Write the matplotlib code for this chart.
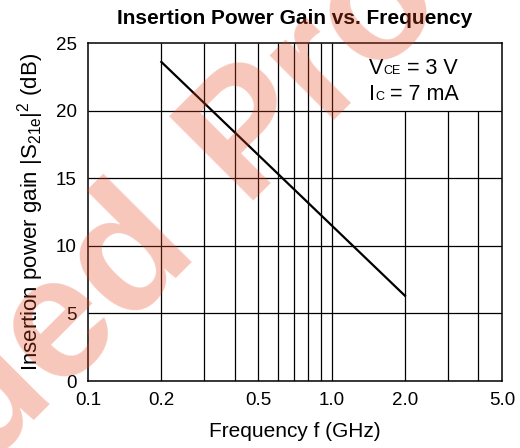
import matplotlib
matplotlib.use('Agg')
import matplotlib.pyplot as plt
from matplotlib.transforms import offset_copy

# curve
freq = [0.2, 2.0]
gain = [23.6, 6.3]

x_ticks = [0.1, 0.2, 0.5, 1.0, 2.0, 5.0]
x_labels = ['0.1', '0.2', '0.5', '1.0', '2.0', '5.0']
y_ticks = [0, 5, 10, 15, 20, 25]
grid_x_full = [0.2, 0.3, 0.4, 0.5, 0.6, 0.7, 0.8, 0.9, 1.0]
grid_x_low = [2.0, 3.0, 4.0]
grid_y = [5, 10, 15, 20]

plt.rcParams['font.family'] = ['Liberation Sans', 'DejaVu Sans']
plt.rcParams['mathtext.fontset'] = 'custom'
plt.rcParams['mathtext.rm'] = 'Liberation Sans'
plt.rcParams['mathtext.it'] = 'Liberation Sans'

fig = plt.figure(figsize=(5.2, 4.48), dpi=100)
ax = fig.add_axes([88/520, 1-381/448, 414/520, 338/448])

ax.set_xscale('log')
ax.set_xlim(0.1, 5.0)
ax.set_ylim(0, 25)

# grid: lines above 2 GHz stop at 20 dB to leave room for the conditions
ax.vlines(grid_x_full, 0, 25, colors='black', lw=0.9)
ax.vlines(grid_x_low, 0, 20, colors='black', lw=0.9)
ax.hlines(grid_y, 0.1, 5.0, colors='black', lw=0.9)

ax.plot(freq, gain, color='black', lw=1.6)

ax.set_xticks(x_ticks)
ax.set_xticklabels(x_labels)
ax.xaxis.set_minor_locator(matplotlib.ticker.NullLocator())
ax.set_yticks(y_ticks)
ax.tick_params(length=0, labelsize=13.5, pad=8)
for s in ax.spines.values():
    s.set_linewidth(1.1)

ax.set_xlabel('Frequency f (GHz)', fontsize=15, labelpad=9.5)
ax.set_ylabel(r'Insertion power gain $|\mathrm{S}_{21e}|^2$ (dB)', fontsize=16, labelpad=7)
ax.set_title('Insertion Power Gain vs. Frequency', fontsize=15, fontweight='bold', pad=14)

# conditions: small letters stay on the baseline
big, small = 15.5, 9
for y, main, sub, rest in [(0.908, 'V', 'CE', ' = 3 V'), (0.831, 'I', 'C', ' = 7 mA')]:
    w_main = {'V': 0.667, 'I': 0.278}[main] * big
    w_sub = {'CE': 1.389, 'C': 0.722}[sub] * small
    ax.text(0.679, y, main, transform=ax.transAxes, fontsize=big, va='baseline')
    t2 = offset_copy(ax.transAxes, fig=fig, x=w_main, y=0, units='points')
    ax.text(0.679, y, sub, transform=t2, fontsize=small, va='baseline')
    t3 = offset_copy(ax.transAxes, fig=fig, x=w_main + w_sub, y=0, units='points')
    ax.text(0.679, y, rest, transform=t3, fontsize=big, va='baseline')

# watermark
wm = dict(fontsize=124, fontweight='bold', color='#e8431f', alpha=0.3,
          rotation=45, rotation_mode='anchor', va='baseline', zorder=10)
fig.text(198/520, 1-245/448, 'Discontinued', ha='right', **wm)
fig.text(242/520, 1-201/448, 'Product', ha='left', **wm)

fig.savefig('out.png', dpi=100)
